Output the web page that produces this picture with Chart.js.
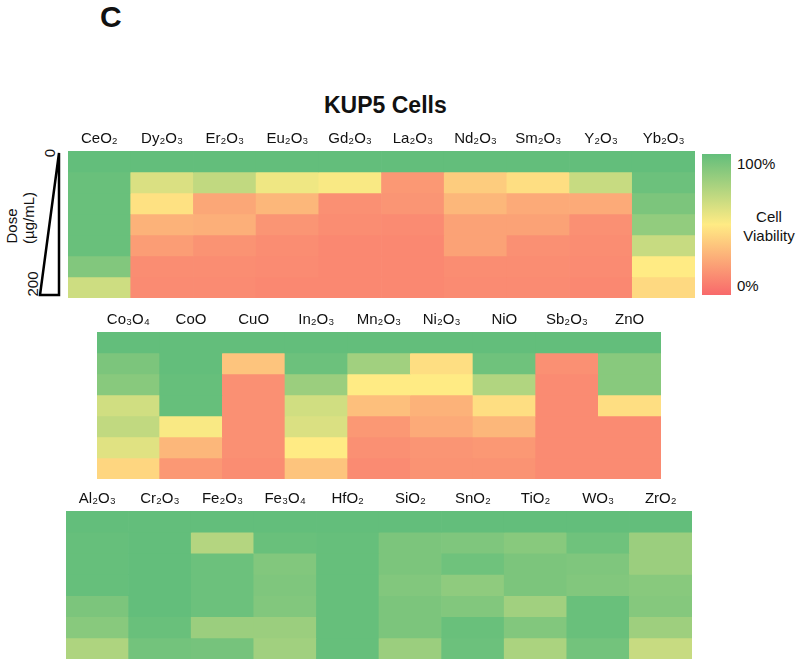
<!DOCTYPE html>
<html>
<head>
<meta charset="utf-8">
<script src="https://cdn.jsdelivr.net/npm/chart.js@4/dist/chart.umd.min.js"></script>
<style>
  body { margin: 0; background: #fff; font-family: "Liberation Sans", Arial, sans-serif; color: #111; }
  #wrap { position: relative; width: 800px; height: 660px; overflow: hidden; }
  canvas { position: absolute; }
  .txt { position: absolute; line-height: 1; white-space: nowrap; }
  .rot { position: absolute; white-space: nowrap; line-height: 1; font-size: 15px; transform: translate(-50%, -50%) rotate(-90deg); }
</style>
</head>
<body>
<div id="wrap">
  <div class="txt" style="left:100px; top:2px; font-size:30px; font-weight:bold;">C</div>
  <div class="txt" style="left:324px; top:94px; font-size:23px; font-weight:bold;">KUP5 Cells</div>

  <div class="rot" style="left:49px; top:153px;">0</div>
  <div class="rot" style="left:32px; top:284px;">200</div>
  <div class="rot" style="left:11px; top:226px;">Dose</div>
  <div class="rot" style="left:28px; top:218px;">(µg/mL)</div>

  <div class="txt" style="left:737px; top:156px; font-size:15px;">100%</div>
  <div class="txt" style="left:739px; top:207px; font-size:15px; line-height:19px; text-align:center; width:60px;">Cell<br>Viability</div>
  <div class="txt" style="left:737px; top:278px; font-size:15px;">0%</div>

  <canvas id="top" width="659" height="173" style="left:36px; top:125px;"></canvas>
  <canvas id="mid" width="564" height="173" style="left:97px; top:306px;"></canvas>
  <canvas id="bot" width="626" height="174" style="left:66px; top:485px;"></canvas>
  <canvas id="scale" width="29" height="141" style="left:702px; top:154px;"></canvas>
</div>
<script>
// 7 dose rows, lowest dose (0) first
const doseRows = ['row1', 'row2', 'row3', 'row4', 'row5', 'row6', 'row7'];

// panel 1
const topNames = ['CeO₂', 'Dy₂O₃', 'Er₂O₃', 'Eu₂O₃', 'Gd₂O₃', 'La₂O₃', 'Nd₂O₃', 'Sm₂O₃', 'Y₂O₃', 'Yb₂O₃'];
const topViability = [
  [100, 98, 98, 98, 98, 90, 66],
  [100, 62, 46, 28, 20, 14, 13],
  [100, 70, 24, 27, 16, 14, 13],
  [100, 55, 30, 17, 14, 13, 12],
  [100, 52, 15, 14, 12, 12, 12],
  [100, 18, 17, 13, 12, 12, 12],
  [100, 38, 30, 22, 22, 14, 13],
  [100, 45, 25, 22, 15, 14, 13],
  [100, 68, 25, 15, 14, 13, 12],
  [100, 97, 92, 85, 68, 50, 43]
];

// panel 2
const midNames = ['Co₃O₄', 'CoO', 'CuO', 'In₂O₃', 'Mn₂O₃', 'Ni₂O₃', 'NiO', 'Sb₂O₃', 'ZnO'];
const midViability = [
  [100, 92, 88, 65, 70, 60, 42],
  [100, 100, 99, 99, 52, 30, 18],
  [100, 35, 15, 15, 15, 15, 14],
  [100, 97, 82, 65, 62, 50, 35],
  [100, 80, 50, 33, 18, 15, 13],
  [100, 45, 50, 28, 25, 17, 16],
  [100, 96, 75, 45, 30, 18, 16],
  [100, 15, 13, 13, 13, 13, 13],
  [100, 88, 88, 45, 13, 13, 13]
];

// panel 3
const botNames = ['Al₂O₃', 'Cr₂O₃', 'Fe₂O₃', 'Fe₃O₄', 'HfO₂', 'SiO₂', 'SnO₂', 'TiO₂', 'WO₃', 'ZrO₂'];
const botViability = [
  [100, 99, 99, 99, 92, 88, 76],
  [100, 100, 100, 100, 100, 98, 95],
  [100, 74, 97, 97, 97, 82, 94],
  [100, 98, 90, 91, 90, 82, 80],
  [100, 99, 99, 99, 99, 99, 99],
  [100, 92, 92, 90, 92, 92, 82],
  [100, 91, 96, 86, 90, 98, 97],
  [100, 88, 92, 92, 80, 90, 77],
  [100, 96, 91, 90, 98, 98, 95],
  [100, 82, 82, 88, 89, 81, 68]
];

// red - yellow - green scale
const scaleStops = [
  [0, [248, 105, 107]],
  [50, [255, 235, 132]],
  [100, [99, 190, 123]]
];

function colorFor(v) {
  let i = v < 50 ? 0 : 1;
  let a = scaleStops[i], b = scaleStops[i + 1];
  let t = (v - a[0]) / (b[0] - a[0]);
  let c = a[1].map((x, k) => Math.round(x + (b[1][k] - x) * t));
  return 'rgb(' + c.join(',') + ')';
}

// the dose wedge left of the first panel
const wedge = {
  id: 'wedge',
  afterDraw(chart) {
    let a = chart.chartArea;
    let ctx = chart.ctx;
    ctx.save();
    ctx.strokeStyle = '#000';
    ctx.lineWidth = 2.5;
    ctx.beginPath();
    ctx.moveTo(a.left - 9, a.top + 2);
    ctx.lineTo(a.left - 9, a.bottom - 3);
    ctx.lineTo(a.left - 28, a.bottom - 3);
    ctx.closePath();
    ctx.stroke();
    ctx.restore();
  }
};

function heatmap(id, names, viability, padLeft, plugins) {
  let datasets = doseRows.map((row, r) => ({
    label: row,
    data: names.map(() => 1),
    backgroundColor: names.map((n, c) => colorFor(viability[c][r])),
    borderWidth: 0,
    barPercentage: 1,
    categoryPercentage: 1
  }));
  return new Chart(document.getElementById(id), {
    type: 'bar',
    data: { labels: names, datasets: datasets },
    options: {
      responsive: false,
      animation: false,
      layout: { padding: { left: padLeft, right: 0, top: 0, bottom: 0 } },
      plugins: { legend: { display: false }, tooltip: { enabled: false } },
      scales: {
        x: {
          position: 'top',
          stacked: true,
          grid: { display: false, drawTicks: false },
          border: { display: false },
          ticks: { color: '#111', font: { family: '"Liberation Sans", Arial, sans-serif', size: 15 }, padding: 3, maxRotation: 0, autoSkip: false },
          afterFit(scale) { scale.height = 26; }
        },
        y: { stacked: true, reverse: true, min: 0, max: doseRows.length, display: false }
      }
    },
    plugins: plugins || []
  });
}

heatmap('top', topNames, topViability, 32, [wedge]);
heatmap('mid', midNames, midViability, 0);
heatmap('bot', botNames, botViability, 0);

// colour bar legend
new Chart(document.getElementById('scale'), {
  type: 'bar',
  data: {
    labels: ['Cell Viability'],
    datasets: [{
      data: [[0, 100]],
      borderWidth: 0,
      barPercentage: 1,
      categoryPercentage: 1,
      backgroundColor(ctx) {
        let a = ctx.chart.chartArea;
        if (!a) return '#ccc';
        let g = ctx.chart.ctx.createLinearGradient(0, a.bottom, 0, a.top);
        scaleStops.forEach(s => g.addColorStop(s[0] / 100, 'rgb(' + s[1].join(',') + ')'));
        return g;
      }
    }]
  },
  options: {
    responsive: false,
    animation: false,
    layout: { padding: 0 },
    plugins: { legend: { display: false }, tooltip: { enabled: false } },
    scales: {
      x: { display: false },
      y: { display: false, min: 0, max: 100 }
    }
  }
});
</script>
</body>
</html>
